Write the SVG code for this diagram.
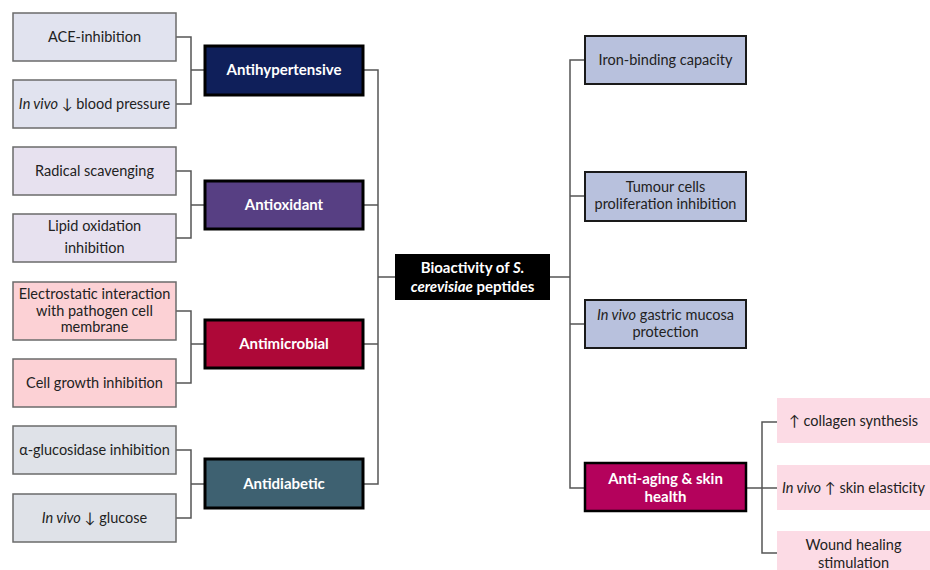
<svg xmlns="http://www.w3.org/2000/svg" width="930" height="570" viewBox="0 0 930 570">
<style>
text{font-family:Lato,"Open Sans","Liberation Sans",sans-serif;font-size:14.5px;text-anchor:middle;fill:#222}
.leaf{stroke:#6b6b6b;stroke-width:1.5}
.cat{stroke:#000;stroke-width:3}
.cat text,.w{fill:#fff;font-weight:bold;font-size:15px}
.rb{fill:#b8c1dd;stroke:#1a1a1a;stroke-width:2}
.pk{fill:#fcdbe5}
.i{font-style:italic}
#connectors path{fill:none;stroke:#555;stroke-width:1.5}
</style>
<rect width="930" height="570" fill="#fff"/>
<g id="connectors">
<path d="M176 37H191V104H176M191 70H205"/>
<path d="M176 171H191V238H176M191 205H205"/>
<path d="M176 311H191V383H176M191 344H205"/>
<path d="M176 450H191V518H176M191 484H205"/>
<path d="M363 70H378V484H363M363 205H378M363 344H378M378 277H395"/>
<path d="M550 277H570M585 60H570V488H585M570 196H585M570 324H585"/>
<path d="M746 488H777M777 422H762V553H777"/>
</g>
<g id="ace"><rect class="leaf" x="13" y="13" width="163" height="48" fill="#e1e3ef"/><text x="94.5" y="42">ACE-inhibition</text></g>
<g id="bp"><rect class="leaf" x="13" y="80" width="163" height="48" fill="#e1e3ef"/><text x="94.5" y="109"><tspan class="i">In vivo</tspan> ↓ blood pressure</text></g>
<g id="radical"><rect class="leaf" x="13" y="147" width="163" height="48" fill="#e7e1ef"/><text x="94.5" y="176">Radical scavenging</text></g>
<g id="lipid"><rect class="leaf" x="13" y="214" width="163" height="48" fill="#e7e1ef"/><text x="94.5" y="231">Lipid oxidation</text><text x="94.5" y="253">inhibition</text></g>
<g id="electro"><rect class="leaf" x="13" y="282" width="163" height="58" fill="#fcd1d5"/><text x="94.5" y="299" font-size="14">Electrostatic interaction</text><text x="94.5" y="316" font-size="14">with pathogen cell</text><text x="94.5" y="332" font-size="14">membrane</text></g>
<g id="growth"><rect class="leaf" x="13" y="359" width="163" height="48" fill="#fcd1d5"/><text x="94.5" y="388">Cell growth inhibition</text></g>
<g id="gluc"><rect class="leaf" x="13" y="426" width="163" height="48" fill="#dfe2e8"/><text x="94.5" y="455">α-glucosidase inhibition</text></g>
<g id="glucose"><rect class="leaf" x="13" y="494" width="163" height="48" fill="#dfe2e8"/><text x="94.5" y="523"><tspan class="i">In vivo</tspan> ↓ glucose</text></g>
<g id="antihyp" class="cat"><rect x="205" y="46" width="158" height="49" fill="#0f1f5a"/><text x="284" y="75" stroke="none">Antihypertensive</text></g>
<g id="antiox" class="cat"><rect x="205" y="181" width="158" height="48" fill="#573f83"/><text x="284" y="210" stroke="none">Antioxidant</text></g>
<g id="antimic" class="cat"><rect x="205" y="320" width="158" height="48" fill="#ae0838"/><text x="284" y="349" stroke="none">Antimicrobial</text></g>
<g id="antidiab" class="cat"><rect x="205" y="459" width="158" height="49" fill="#3e6171"/><text x="284" y="489" stroke="none">Antidiabetic</text></g>
<g id="center"><rect x="395" y="254" width="155" height="46" fill="#000"/><text class="w" x="472.5" y="273">Bioactivity of <tspan class="i">S.</tspan></text><text class="w" x="472.5" y="292"><tspan class="i">cerevisiae</tspan> peptides</text></g>
<g id="iron"><rect class="rb" x="585" y="36" width="161" height="48"/><text x="665.5" y="65">Iron-binding capacity</text></g>
<g id="tumour"><rect class="rb" x="585" y="172" width="161" height="49"/><text x="665.5" y="192">Tumour cells</text><text x="665.5" y="209">proliferation  inhibition</text></g>
<g id="gastric"><rect class="rb" x="585" y="300" width="161" height="48"/><text x="665.5" y="320"><tspan class="i">In vivo</tspan> gastric mucosa</text><text x="665.5" y="337">protection</text></g>
<g id="antiaging" class="cat"><rect x="585" y="463" width="161" height="48" stroke-width="2.5" fill="#b4025c"/><text x="665.5" y="484" stroke="none">Anti-aging &amp; skin</text><text x="665.5" y="502" stroke="none">health</text></g>
<g id="collagen"><rect class="pk" x="777" y="398" width="153" height="45"/><text x="853.5" y="426">↑ collagen synthesis</text></g>
<g id="elastic"><rect class="pk" x="777" y="465" width="153" height="45"/><text x="853.5" y="493"><tspan class="i">In vivo</tspan> ↑ skin elasticity</text></g>
<g id="wound"><rect class="pk" x="777" y="531" width="153" height="45"/><text x="853.5" y="550">Wound healing</text><text x="853.5" y="568">stimulation</text></g>
</svg>
